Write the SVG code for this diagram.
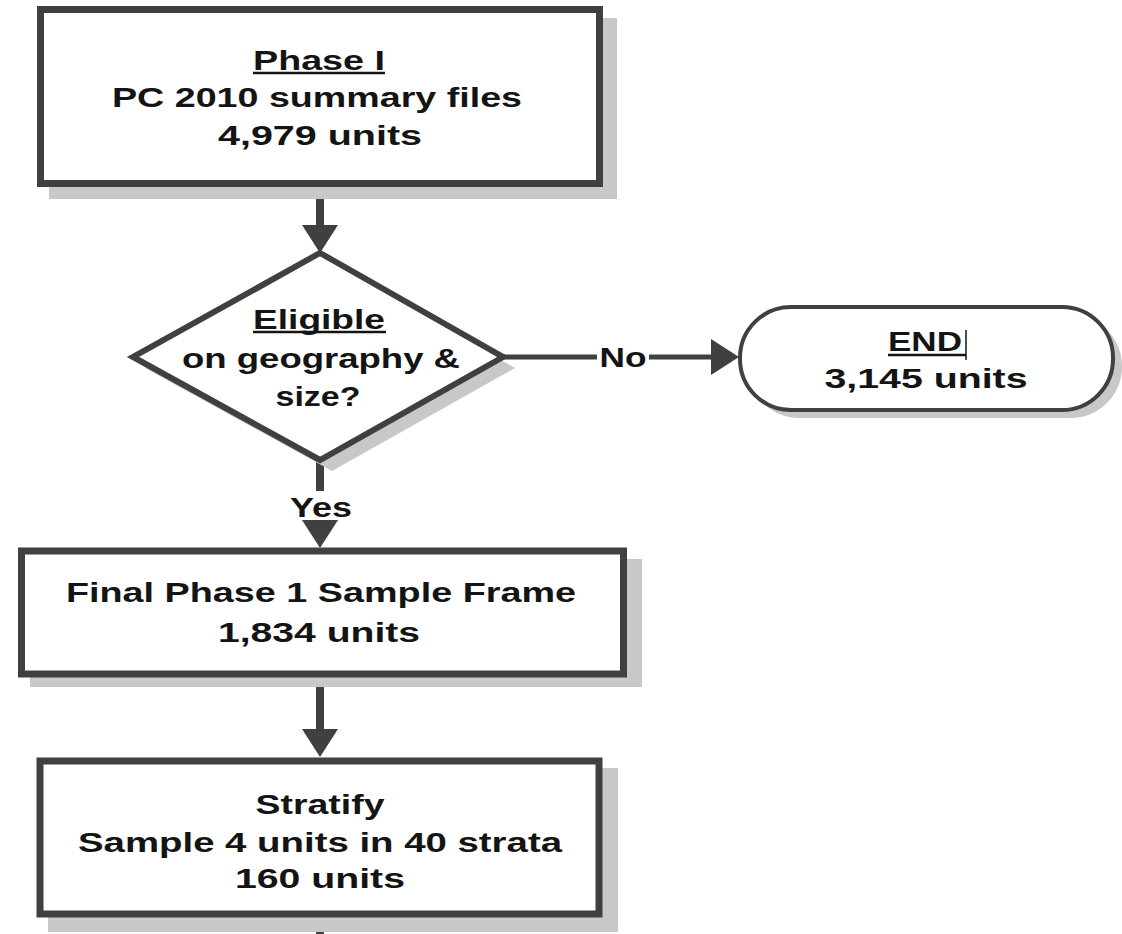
<svg xmlns="http://www.w3.org/2000/svg" width="1122" height="934" viewBox="0 0 1122 934">
<style>
.box{fill:#fff;stroke:#404040;stroke-width:7}
.shadow{fill:#c8c8c8;stroke:none}
.t{font-family:"Liberation Sans",Arial,sans-serif;font-weight:bold;font-size:28px;fill:#141414;text-anchor:middle}
.ul{stroke:#141414;stroke-width:2.5}
.conn{stroke:#404040;stroke-width:8;fill:none}
.connh{stroke:#404040;stroke-width:5;fill:none}
.ah{fill:#404040}
</style>
<defs>
<path id="ahd" d="M-18,-28 L18,-28 L0,0 Z"/>
</defs>
<rect width="1122" height="934" fill="#fff"/>

<g id="connectors">
<line class="conn" x1="320" y1="187" x2="320" y2="226"/>
<use href="#ahd" class="ah" x="320" y="253"/>
<line class="conn" x1="320" y1="460" x2="320" y2="491"/>
<text class="t" x="321" y="517" textLength="62" lengthAdjust="spacingAndGlyphs">Yes</text>
<use href="#ahd" class="ah" x="320" y="548"/>
<line class="connh" x1="503" y1="357" x2="597" y2="357"/>
<text class="t" x="623" y="367" textLength="47" lengthAdjust="spacingAndGlyphs">No</text>
<line class="connh" x1="649" y1="357" x2="712" y2="357"/>
<use href="#ahd" class="ah" transform="translate(739,357) rotate(-90)"/>
<line class="conn" x1="320" y1="677" x2="320" y2="731"/>
<use href="#ahd" class="ah" x="320" y="757"/>
<line class="conn" x1="320" y1="918" x2="320" y2="934"/>
</g>

<g id="phase1">
<rect class="shadow" x="49" y="18" width="568" height="181"/>
<rect class="box" x="40.5" y="9.5" width="559" height="174"/>
<text class="t" x="319" y="70" textLength="132" lengthAdjust="spacingAndGlyphs">Phase I</text>
<line class="ul" x1="253" y1="73" x2="385" y2="73"/>
<text class="t" x="317" y="107" textLength="410" lengthAdjust="spacingAndGlyphs">PC 2010 summary files</text>
<text class="t" x="320" y="145" textLength="204" lengthAdjust="spacingAndGlyphs">4,979 units</text>
</g>

<g id="eligible">
<polygon class="shadow" points="332,264 515,368 332,471 145,368"/>
<polygon class="box" style="stroke-width:6" points="320,253 503,357 320,460 133,357"/>
<text class="t" x="319" y="329" textLength="132" lengthAdjust="spacingAndGlyphs">Eligible</text>
<line class="ul" x1="253" y1="332" x2="386" y2="332"/>
<text class="t" x="321" y="368" textLength="278" lengthAdjust="spacingAndGlyphs">on geography &amp;</text>
<text class="t" x="318" y="406" textLength="85" lengthAdjust="spacingAndGlyphs">size?</text>
</g>

<g id="end">
<rect class="shadow" x="748" y="315" width="374" height="103" rx="51"/>
<rect class="box" style="stroke-width:4" x="740" y="307" width="373" height="103" rx="51"/>
<text class="t" x="925" y="351" textLength="74" lengthAdjust="spacingAndGlyphs">END</text>
<line class="ul" x1="888" y1="355" x2="966" y2="355"/>
<line stroke="#141414" stroke-width="1.5" x1="966" y1="330" x2="966" y2="360"/>
<text class="t" x="926" y="388" textLength="203" lengthAdjust="spacingAndGlyphs">3,145 units</text>
</g>

<g id="frame">
<rect class="shadow" x="30" y="559" width="612" height="128"/>
<rect class="box" x="21.5" y="551" width="602" height="123"/>
<text class="t" x="321" y="602" textLength="510" lengthAdjust="spacingAndGlyphs">Final Phase 1 Sample Frame</text>
<text class="t" x="319" y="642" textLength="202" lengthAdjust="spacingAndGlyphs">1,834 units</text>
</g>

<g id="stratify">
<rect class="shadow" x="48" y="768" width="570" height="164"/>
<rect class="box" x="40" y="761" width="559" height="153"/>
<text class="t" x="320" y="814" textLength="129" lengthAdjust="spacingAndGlyphs">Stratify</text>
<text class="t" x="320" y="852" textLength="484" lengthAdjust="spacingAndGlyphs">Sample 4 units in 40 strata</text>
<text class="t" x="320" y="888" textLength="170" lengthAdjust="spacingAndGlyphs">160 units</text>
</g>
</svg>
